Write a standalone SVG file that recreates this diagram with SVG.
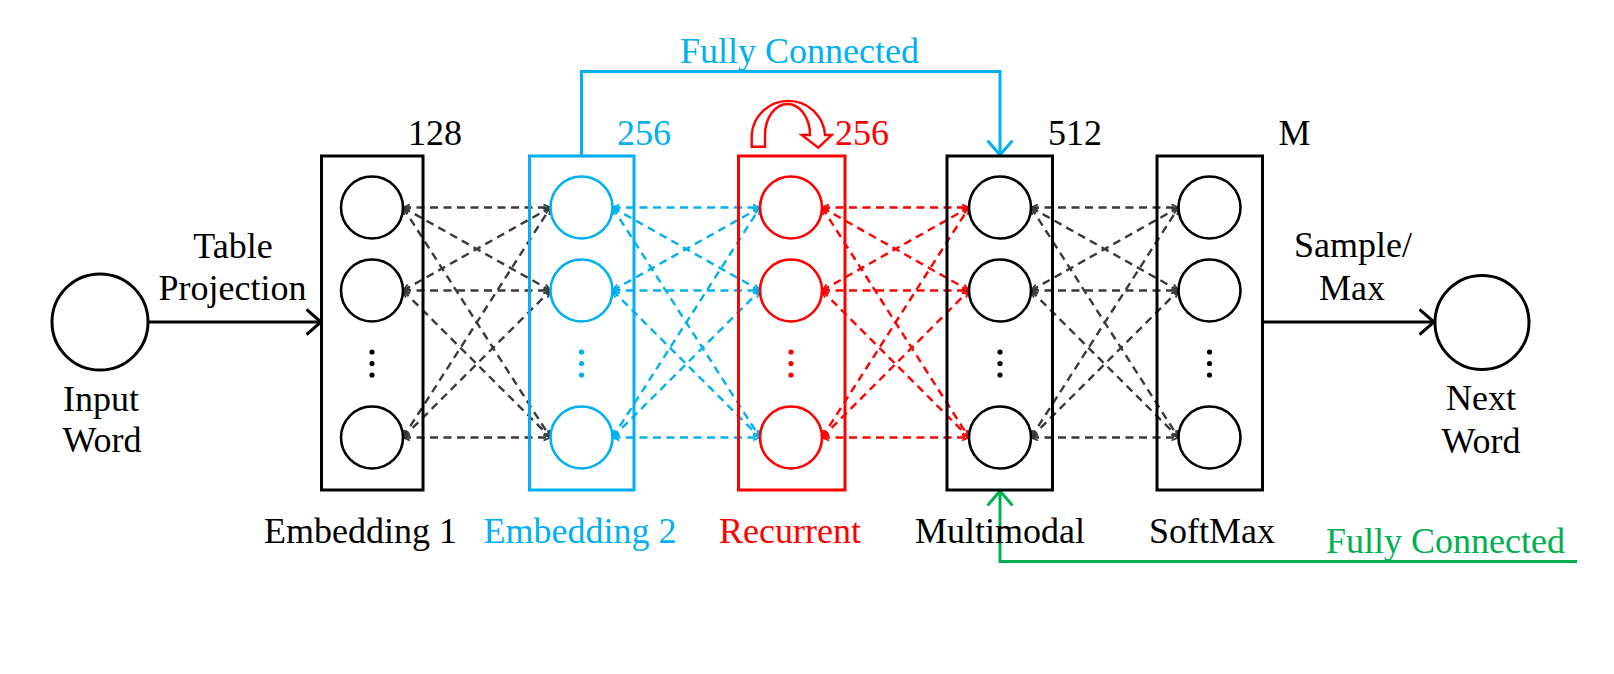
<svg xmlns="http://www.w3.org/2000/svg" width="1614" height="674" viewBox="0 0 1614 674">
<style>
text{font-family:"Liberation Serif","Times New Roman",serif;font-size:36px;}
.k{fill:#000}.b{fill:#00B0F0}.r{fill:#FF0000}.g{fill:#00B050}
.box{fill:none;stroke-width:3}
.nd{fill:#fff;stroke-width:2.6}
.dk{stroke:#3a3a3a;stroke-width:2.4;stroke-dasharray:8 5.5;fill:none;marker-start:url(#mk);marker-end:url(#mk)}
.db{stroke:#00B0F0;stroke-width:2.4;stroke-dasharray:8 5.5;fill:none;marker-start:url(#mb);marker-end:url(#mb)}
.dr{stroke:#FF0000;stroke-width:2.4;stroke-dasharray:8 5.5;fill:none;marker-start:url(#mr);marker-end:url(#mr)}
.sol{fill:none;stroke-width:3}
</style>
<defs>
<marker id="mk" viewBox="0 0 8 8" refX="7.5" refY="4" markerWidth="8" markerHeight="8" markerUnits="userSpaceOnUse" orient="auto-start-reverse"><path d="M0.5,1 L7.5,4 L0.5,7" fill="none" stroke="#3a3a3a" stroke-width="1.8"/></marker>
<marker id="mb" viewBox="0 0 8 8" refX="7.5" refY="4" markerWidth="8" markerHeight="8" markerUnits="userSpaceOnUse" orient="auto-start-reverse"><path d="M0.5,1 L7.5,4 L0.5,7" fill="none" stroke="#00B0F0" stroke-width="1.8"/></marker>
<marker id="mr" viewBox="0 0 8 8" refX="7.5" refY="4" markerWidth="8" markerHeight="8" markerUnits="userSpaceOnUse" orient="auto-start-reverse"><path d="M0.5,1 L7.5,4 L0.5,7" fill="none" stroke="#FF0000" stroke-width="1.8"/></marker>
<marker id="bk" viewBox="0 0 17 28" refX="15.5" refY="14" markerWidth="17" markerHeight="28" markerUnits="userSpaceOnUse" orient="auto"><path d="M1,1.5 L15.5,14 L1,26.5" fill="none" stroke="#000" stroke-width="3"/></marker>
<marker id="bb" viewBox="0 0 17 28" refX="15.5" refY="14" markerWidth="17" markerHeight="28" markerUnits="userSpaceOnUse" orient="auto"><path d="M1,1.5 L15.5,14 L1,26.5" fill="none" stroke="#00B0F0" stroke-width="3"/></marker>
<marker id="bg" viewBox="0 0 17 28" refX="15.5" refY="14" markerWidth="17" markerHeight="28" markerUnits="userSpaceOnUse" orient="auto"><path d="M1,1.5 L15.5,14 L1,26.5" fill="none" stroke="#00B050" stroke-width="3"/></marker>
</defs>

<g id="connectors">
<!-- Embedding1 -> Embedding2 -->
<line class="dk" x1="403" y1="207.5" x2="550.5" y2="207.5"/>
<line class="dk" x1="403" y1="207.5" x2="550.5" y2="290.5"/>
<line class="dk" x1="403" y1="207.5" x2="550.5" y2="437.5"/>
<line class="dk" x1="403" y1="290.5" x2="550.5" y2="207.5"/>
<line class="dk" x1="403" y1="290.5" x2="550.5" y2="290.5"/>
<line class="dk" x1="403" y1="290.5" x2="550.5" y2="437.5"/>
<line class="dk" x1="403" y1="437.5" x2="550.5" y2="207.5"/>
<line class="dk" x1="403" y1="437.5" x2="550.5" y2="290.5"/>
<line class="dk" x1="403" y1="437.5" x2="550.5" y2="437.5"/>
<!-- Embedding2 -> Recurrent -->
<line class="db" x1="612.5" y1="207.5" x2="760" y2="207.5"/>
<line class="db" x1="612.5" y1="207.5" x2="760" y2="290.5"/>
<line class="db" x1="612.5" y1="207.5" x2="760" y2="437.5"/>
<line class="db" x1="612.5" y1="290.5" x2="760" y2="207.5"/>
<line class="db" x1="612.5" y1="290.5" x2="760" y2="290.5"/>
<line class="db" x1="612.5" y1="290.5" x2="760" y2="437.5"/>
<line class="db" x1="612.5" y1="437.5" x2="760" y2="207.5"/>
<line class="db" x1="612.5" y1="437.5" x2="760" y2="290.5"/>
<line class="db" x1="612.5" y1="437.5" x2="760" y2="437.5"/>
<!-- Recurrent -> Multimodal -->
<line class="dr" x1="822" y1="207.5" x2="969" y2="207.5"/>
<line class="dr" x1="822" y1="207.5" x2="969" y2="290.5"/>
<line class="dr" x1="822" y1="207.5" x2="969" y2="437.5"/>
<line class="dr" x1="822" y1="290.5" x2="969" y2="207.5"/>
<line class="dr" x1="822" y1="290.5" x2="969" y2="290.5"/>
<line class="dr" x1="822" y1="290.5" x2="969" y2="437.5"/>
<line class="dr" x1="822" y1="437.5" x2="969" y2="207.5"/>
<line class="dr" x1="822" y1="437.5" x2="969" y2="290.5"/>
<line class="dr" x1="822" y1="437.5" x2="969" y2="437.5"/>
<!-- Multimodal -> SoftMax -->
<line class="dk" x1="1031" y1="207.5" x2="1178.5" y2="207.5"/>
<line class="dk" x1="1031" y1="207.5" x2="1178.5" y2="290.5"/>
<line class="dk" x1="1031" y1="207.5" x2="1178.5" y2="437.5"/>
<line class="dk" x1="1031" y1="290.5" x2="1178.5" y2="207.5"/>
<line class="dk" x1="1031" y1="290.5" x2="1178.5" y2="290.5"/>
<line class="dk" x1="1031" y1="290.5" x2="1178.5" y2="437.5"/>
<line class="dk" x1="1031" y1="437.5" x2="1178.5" y2="207.5"/>
<line class="dk" x1="1031" y1="437.5" x2="1178.5" y2="290.5"/>
<line class="dk" x1="1031" y1="437.5" x2="1178.5" y2="437.5"/>
<!-- solid arrows -->
<line class="sol" stroke="#000" x1="148" y1="322" x2="321" y2="322" marker-end="url(#bk)"/>
<line class="sol" stroke="#000" x1="1261" y1="322" x2="1434" y2="322" marker-end="url(#bk)"/>
<polyline class="sol" stroke="#00B0F0" points="581.5,155 581.5,71.5 1000,71.5 1000,155" marker-end="url(#bb)"/>
<polyline class="sol" stroke="#00B050" points="1577,561.5 1000,561.5 1000,491" marker-end="url(#bg)"/>
<!-- recurrent self loop -->
<path d="M751.7,146.7 L751.7,135 A36.7,36 0 0 1 825,135 L831.7,135 L818.3,147.7 L801.7,135 L810,135 A22.5,31 0 0 0 765,135 L765,146.7 Z" fill="#fff" stroke="#FF0000" stroke-width="2.4" stroke-linejoin="miter"/>
</g>

<g id="input-word">
<circle cx="100" cy="322" r="48" fill="#fff" stroke="#000" stroke-width="3"/>
<text class="k" x="101" y="410.5" text-anchor="middle">Input</text>
<text class="k" x="102" y="451.5" text-anchor="middle">Word</text>
</g>
<text class="k" x="233" y="258" text-anchor="middle">Table</text>
<text class="k" x="232.5" y="300" text-anchor="middle">Projection</text>

<g id="embedding1">
<rect class="box" x="321.5" y="156" width="101.5" height="334" stroke="#000"/>
<circle class="nd" cx="372" cy="207.5" r="31" stroke="#000"/>
<circle class="nd" cx="372" cy="290.5" r="31" stroke="#000"/>
<circle class="nd" cx="372" cy="437.5" r="31" stroke="#000"/>
<circle class="k" cx="372" cy="352" r="2.6"/><circle class="k" cx="372" cy="363.5" r="2.6"/><circle class="k" cx="372" cy="375" r="2.6"/>
<text class="k" x="408" y="145">128</text>
<text class="k" x="264" y="542.5">Embedding 1</text>
</g>

<g id="embedding2">
<rect class="box" x="529.5" y="156" width="104.5" height="334" stroke="#00B0F0"/>
<circle class="nd" cx="581.5" cy="207.5" r="31" stroke="#00B0F0"/>
<circle class="nd" cx="581.5" cy="290.5" r="31" stroke="#00B0F0"/>
<circle class="nd" cx="581.5" cy="437.5" r="31" stroke="#00B0F0"/>
<circle class="b" cx="581.5" cy="352" r="2.6"/><circle class="b" cx="581.5" cy="363.5" r="2.6"/><circle class="b" cx="581.5" cy="375" r="2.6"/>
<text class="b" x="617" y="145">256</text>
<text class="b" x="483.5" y="542.5">Embedding 2</text>
</g>

<g id="recurrent">
<rect class="box" x="738.5" y="156" width="106.5" height="334" stroke="#FF0000"/>
<circle class="nd" cx="791" cy="207.5" r="31" stroke="#FF0000"/>
<circle class="nd" cx="791" cy="290.5" r="31" stroke="#FF0000"/>
<circle class="nd" cx="791" cy="437.5" r="31" stroke="#FF0000"/>
<circle class="r" cx="791" cy="352" r="2.6"/><circle class="r" cx="791" cy="363.5" r="2.6"/><circle class="r" cx="791" cy="375" r="2.6"/>
<text class="r" x="835" y="145">256</text>
<text class="r" x="719" y="542.5">Recurrent</text>
</g>

<g id="multimodal">
<rect class="box" x="947" y="156" width="105.5" height="334" stroke="#000"/>
<circle class="nd" cx="1000" cy="207.5" r="31" stroke="#000"/>
<circle class="nd" cx="1000" cy="290.5" r="31" stroke="#000"/>
<circle class="nd" cx="1000" cy="437.5" r="31" stroke="#000"/>
<circle class="k" cx="1000" cy="352" r="2.6"/><circle class="k" cx="1000" cy="363.5" r="2.6"/><circle class="k" cx="1000" cy="375" r="2.6"/>
<text class="k" x="1048" y="145">512</text>
<text class="k" x="915" y="542.5">Multimodal</text>
</g>

<g id="softmax">
<rect class="box" x="1157" y="156" width="105.5" height="334" stroke="#000"/>
<circle class="nd" cx="1209.5" cy="207.5" r="31" stroke="#000"/>
<circle class="nd" cx="1209.5" cy="290.5" r="31" stroke="#000"/>
<circle class="nd" cx="1209.5" cy="437.5" r="31" stroke="#000"/>
<circle class="k" cx="1209.5" cy="352" r="2.6"/><circle class="k" cx="1209.5" cy="363.5" r="2.6"/><circle class="k" cx="1209.5" cy="375" r="2.6"/>
<text class="k" x="1278.5" y="145">M</text>
<text class="k" x="1149" y="542.5">SoftMax</text>
</g>

<g id="next-word">
<circle cx="1482" cy="322.5" r="47" fill="#fff" stroke="#000" stroke-width="3"/>
<text class="k" x="1481" y="410" text-anchor="middle">Next</text>
<text class="k" x="1481" y="453" text-anchor="middle">Word</text>
</g>
<text class="k" x="1353" y="256.5" text-anchor="middle">Sample/</text>
<text class="k" x="1352" y="300" text-anchor="middle">Max</text>

<text class="b" x="680" y="63">Fully Connected</text>
<text class="g" x="1326" y="553">Fully Connected</text>
</svg>
